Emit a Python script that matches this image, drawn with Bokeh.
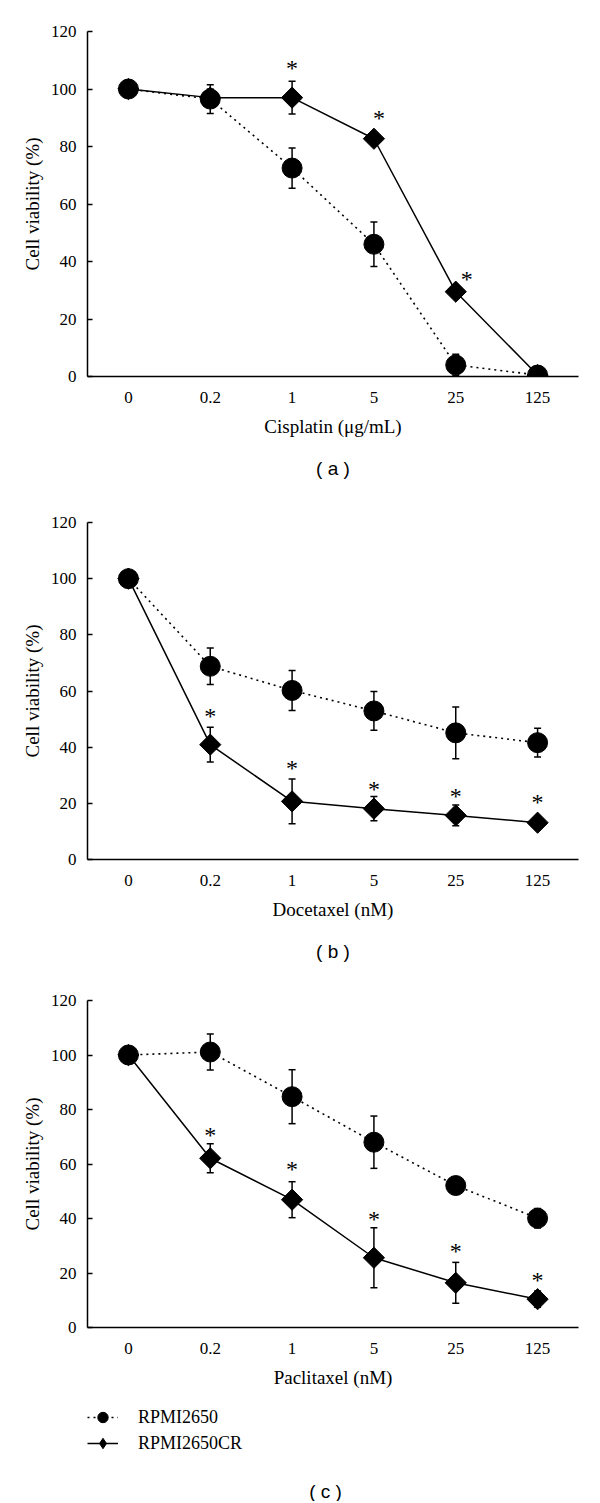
from bokeh.plotting import figure
from bokeh.models import (ColumnDataSource, Whisker, TeeHead, FactorRange, Range1d,
                          FixedTicker, Legend, LegendItem, Title, Label)
from bokeh.layouts import column
from bokeh.embed import file_html
from bokeh.resources import INLINE
from bokeh.core.properties import value

# ---------------- data ----------------
doses = ["0", "0.2", "1", "5", "25", "125"]
y_ticks = [0, 20, 40, 60, 80, 100, 120]
series_names = ["RPMI2650", "RPMI2650CR"]

# (a) Cisplatin (ug/mL)
cis_parent = [100, 96.5, 72.5, 46.0, 4.0, 0.5]
cis_parent_err = [0, 5.0, 7.0, 7.7, 3.7, 0]
cis_cr = [100, 97.0, 97.0, 82.7, 29.5, 0.5]
cis_cr_err = [0, 3.0, 5.7, 0, 0, 0]
cis_star_doses = ["1", "5", "25"]
cis_star_y = [107.6, 90.2, 34.1]

# (b) Docetaxel (nM)
doc_parent = [100, 68.8, 60.2, 52.9, 45.1, 41.6]
doc_parent_err = [0, 6.5, 7.1, 6.9, 9.2, 5.1]
doc_cr = [100, 40.9, 20.7, 18.1, 15.7, 13.1]
doc_cr_err = [0, 6.2, 8.0, 4.3, 3.7, 1.0]
doc_star_doses = ["0.2", "1", "5", "25", "125"]
doc_star_y = [51.6, 33.1, 25.5, 22.8, 21.0]

# (c) Paclitaxel (nM)
pac_parent = [100, 101.1, 84.7, 68.0, 52.1, 40.1]
pac_parent_err = [0, 6.6, 9.9, 9.6, 3.0, 3.6]
pac_cr = [100, 62.1, 46.9, 25.6, 16.4, 10.4]
pac_cr_err = [0, 5.3, 6.6, 11.0, 7.5, 3.0]
pac_star_doses = ["0.2", "1", "5", "25", "125"]
pac_star_y = [70.9, 58.5, 40.2, 28.4, 17.7]

SERIF = "Liberation Serif"
SANS = "Liberation Sans"
PAR_STYLE = dict(line_color="black", line_width=1.6, line_dash="2 4")
CR_STYLE = dict(line_color="black", line_width=1.5)
PAR_MARK = dict(marker="circle", size=20, fill_color="black", line_color="black")
CR_MARK = dict(marker="square", size=15, angle=0.7853981634,
               fill_color="black", line_color="black")


def make_panel(xlabel, caption, parent, parent_err, cr, cr_err, star_doses, star_y,
               star_nudge, height, top, frame_h, caption_standoff):
    bottom = height - top - frame_h
    p = figure(width=584, height=height,
               x_range=FactorRange(factors=doses, range_padding=0),
               y_range=Range1d(0, 120),
               output_backend="svg", toolbar_location=None,
               min_border_left=87, min_border_right=6, min_border_top=top,
               min_border_bottom=bottom)
    p.outline_line_color = None
    p.xgrid.grid_line_color = None
    p.ygrid.grid_line_color = None
    p.background_fill_color = "white"
    p.border_fill_color = "white"

    for ax in (p.xaxis[0], p.yaxis[0]):
        ax.axis_line_width = 1.5
        ax.axis_line_color = "black"
        ax.major_label_text_font = SERIF
        ax.major_label_text_font_size = "17px"
        ax.major_label_text_color = "black"
        ax.axis_label_text_font = SERIF
        ax.axis_label_text_font_size = "19px"
        ax.axis_label_text_font_style = "normal"
        ax.axis_label_text_color = "black"
        ax.minor_tick_line_color = None
    p.xaxis.major_tick_line_color = None
    p.xaxis.major_label_standoff = 9
    p.xaxis.axis_label = xlabel
    p.xaxis.axis_label_standoff = 10
    p.yaxis.ticker = FixedTicker(ticks=y_ticks)
    p.yaxis.major_tick_in = 5
    p.yaxis.major_tick_out = 0
    p.yaxis.major_tick_line_width = 1.5
    p.yaxis.major_label_standoff = 11
    p.yaxis.axis_label = "Cell viability (%)"
    p.yaxis.axis_label_standoff = 5

    src_cr = ColumnDataSource(dict(x=doses, y=cr,
                                   lo=[v - e for v, e in zip(cr, cr_err)],
                                   hi=[v + e for v, e in zip(cr, cr_err)]))
    src_par = ColumnDataSource(dict(x=doses, y=parent,
                                    lo=[v - e for v, e in zip(parent, parent_err)],
                                    hi=[v + e for v, e in zip(parent, parent_err)]))

    p.line("x", "y", source=src_cr, **CR_STYLE)
    p.line("x", "y", source=src_par, **PAR_STYLE)
    for src in (src_cr, src_par):
        w = Whisker(base="x", upper="hi", lower="lo", source=src, dimension="height",
                    line_color="black", line_width=1.5,
                    upper_head=TeeHead(size=7, line_width=1.5, line_color="black"),
                    lower_head=TeeHead(size=7, line_width=1.5, line_color="black"))
        w.level = "glyph"
        p.add_layout(w)
    p.scatter("x", "y", source=src_cr, **CR_MARK)
    p.scatter("x", "y", source=src_par, **PAR_MARK)

    p.text(x=star_doses, y=star_y, text=["*"] * len(star_doses),
           x_offset=star_nudge, y_offset=[1] * len(star_doses),
           text_font=value(SERIF), text_font_size="24px", text_color="black",
           text_align="center", text_baseline="alphabetic")

    if caption is not None:
        t = Title(text=caption, align="center", text_font=SANS, text_font_size="19px",
                  text_font_style="normal", text_color="black",
                  standoff=caption_standoff, offset=-8)
        p.add_layout(t, "below")
    return p


pa = make_panel("Cisplatin (\u03bcg/mL)", "( a )", cis_parent, cis_parent_err,
                cis_cr, cis_cr_err, cis_star_doses, cis_star_y, [0, 5, 11],
                height=499, top=31, frame_h=345, caption_standoff=32)
pb = make_panel("Docetaxel (nM)", "( b )", doc_parent, doc_parent_err,
                doc_cr, doc_cr_err, doc_star_doses, doc_star_y, [0, 0, 0, 0, 0],
                height=478, top=23, frame_h=337, caption_standoff=32)
pc = make_panel("Paclitaxel (nM)", None, pac_parent, pac_parent_err,
                pac_cr, pac_cr_err, pac_star_doses, pac_star_y, [0, 0, 0, 0, 0],
                height=420, top=23, frame_h=327, caption_standoff=0)

# legend + caption strip below panel (c); frame aligned with the panels above
LH = 104
FW = 584 - 87 - 6
q = figure(width=584, height=LH, x_range=Range1d(0, FW), y_range=Range1d(0, LH),
           x_axis_location=None, y_axis_location=None,
           output_backend="svg", toolbar_location=None,
           min_border_left=87, min_border_right=6,
           min_border_top=0, min_border_bottom=0)
q.outline_line_color = None
q.xgrid.grid_line_color = None
q.ygrid.grid_line_color = None
q.border_fill_color = "white"
q.background_fill_color = "white"
# legend proxies carry the series values but are not drawn in the strip
idx = list(range(len(doses)))
lp = q.line(idx, pac_parent, **PAR_STYLE)
sp = q.scatter(idx, pac_parent, **PAR_MARK)
lc = q.line(idx, pac_cr, **CR_STYLE)
sc = q.scatter(idx, pac_cr, marker="diamond", size=15,
               fill_color="black", line_color="black")
for r in (lp, sp, lc, sc):
    r.visible = False
lg = Legend(items=[LegendItem(label=series_names[0], renderers=[lp, sp]),
                   LegendItem(label=series_names[1], renderers=[lc, sc])],
            location=(0, 45), orientation="vertical",
            border_line_color=None, background_fill_alpha=0,
            padding=0, margin=0, spacing=0,
            glyph_width=31, glyph_height=26, label_height=26,
            label_standoff=20, label_text_font=SERIF,
            label_text_font_size="18px", label_text_color="black")
q.add_layout(lg)
q.add_layout(Label(x=325 - 87, y=10, text="( c )", text_font=SANS, text_font_size="19px",
                   text_color="black", text_align="center", text_baseline="middle"))

layout = column(pa, pb, pc, q, spacing=0)
open("out.html", "w").write(file_html(layout, INLINE))
